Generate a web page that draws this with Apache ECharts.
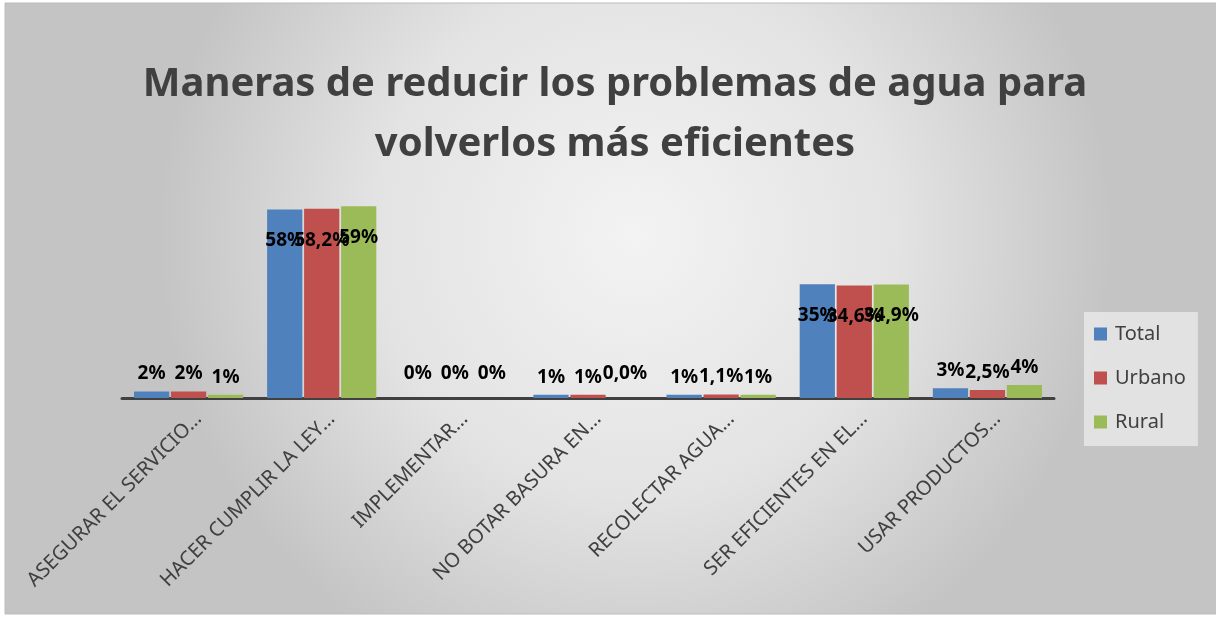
<!DOCTYPE html>
<html>
<head>
<meta charset="utf-8">
<script src="https://cdn.jsdelivr.net/npm/echarts@6/dist/echarts.min.js"></script>
<style>
  html, body { margin: 0; padding: 0; background: #ffffff; }
  #chart { width: 1216px; height: 619px; }
</style>
</head>
<body>
<div id="chart"></div>
<script>
const categories = [
  'ASEGURAR EL SERVICIO…',
  'HACER CUMPLIR LA LEY…',
  'IMPLEMENTAR…',
  'NO BOTAR BASURA EN…',
  'RECOLECTAR AGUA…',
  'SER EFICIENTES EN EL…',
  'USAR PRODUCTOS…'
]
const totalValues = [2, 58, 0, 1, 1, 35, 3]
const urbanoValues = [2, 58.2, 0, 1, 1.1, 34.6, 2.5]
const ruralValues = [1, 59, 0, 0, 1, 34.9, 4]
const totalLabels = ['2%', '58%', '0%', '1%', '1%', '35%', '3%']
const urbanoLabels = ['2%', '58,2%', '0%', '1%', '1,1%', '34,6%', '2,5%']
const ruralLabels = ['1%', '59%', '0%', '0,0%', '1%', '34,9%', '4%']

// big bars get the label inside, small ones above
function buildData(values, labels) {
  return values.map((v, i) => ({
    value: v,
    label: {
      formatter: labels[i],
      position: v > 10 ? 'insideTop' : 'top',
      distance: v > 10 ? 22 : (v < 0.5 ? 15 : 8)
    }
  }))
}

const labelStyle = {
  show: true,
  color: '#000000',
  fontWeight: 'bold',
  fontSize: 19,
  fontFamily: 'Noto Sans'
}

const option = {
  backgroundColor: '#ffffff',
  graphic: [
    {
      type: 'rect',
      z: -100,
      silent: true,
      shape: { x: 5, y: 3, width: 1212, height: 611 },
      style: {
        fill: new echarts.graphic.RadialGradient(0.52, 0.38, 0.78, [
          { offset: 0, color: '#f3f3f3' },
          { offset: 0.55, color: '#e3e3e3' },
          { offset: 1, color: '#c4c4c4' }
        ]),
        stroke: '#bcbcbc',
        lineWidth: 1
      }
    }
  ],
  title: {
    text: 'Maneras de reducir los problemas de agua para\nvolverlos más eficientes',
    left: 610,
    textAlign: 'center',
    top: 50,
    textStyle: {
      color: '#404040',
      fontSize: 40,
      fontWeight: 'bold',
      fontFamily: 'Noto Sans',
      lineHeight: 60
    }
  },
  legend: {
    orient: 'vertical',
    left: 1084,
    top: 312,
    itemWidth: 13,
    itemHeight: 13,
    itemGap: 24,
    icon: 'rect',
    padding: [12, 12, 14, 10],
    backgroundColor: 'rgba(236,236,236,0.75)',
    textStyle: { color: '#404040', fontSize: 20, fontFamily: 'Noto Sans', padding: [0, 0, 0, 3] },
    data: ['Total', 'Urbano', 'Rural']
  },
  grid: { left: 122, right: 162, top: 203, bottom: 221 },
  xAxis: {
    type: 'category',
    data: categories,
    axisLine: { lineStyle: { color: '#404040', width: 3 } },
    axisTick: { show: false },
    axisLabel: {
      interval: 0,
      rotate: 45,
      color: '#404040',
      fontSize: 20,
      fontFamily: 'Noto Sans',
      verticalAlign: 'top',
      lineHeight: 28,
      margin: 8
    }
  },
  yAxis: {
    type: 'value',
    min: 0,
    max: 60,
    show: false,
    splitLine: { show: false }
  },
  series: [
    {
      name: 'Total', type: 'bar', barGap: '5%', barCategoryGap: '18%',
      itemStyle: { color: '#4f81bd' },
      label: labelStyle,
      data: buildData(totalValues, totalLabels)
    },
    {
      name: 'Urbano', type: 'bar', barGap: '5%', barCategoryGap: '18%',
      itemStyle: { color: '#c0504d' },
      label: labelStyle,
      data: buildData(urbanoValues, urbanoLabels)
    },
    {
      name: 'Rural', type: 'bar', barGap: '5%', barCategoryGap: '18%',
      itemStyle: { color: '#9bbb59' },
      label: labelStyle,
      data: buildData(ruralValues, ruralLabels)
    }
  ]
}

let myChart = echarts.init(document.getElementById('chart'))
myChart.setOption(option)
</script>
</body>
</html>
